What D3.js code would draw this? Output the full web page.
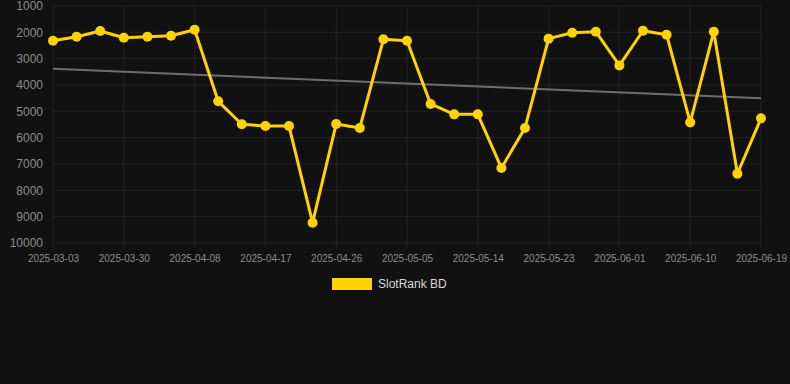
<!DOCTYPE html>
<html lang="en">
<head>
    <meta charset="UTF-8">
    <title>SlotRank BD</title>
    <style>
        html, body { margin: 0; padding: 0; background: #111111; }
        svg { display: block; font-family: Arial, "Liberation Sans", sans-serif; }
    </style>
</head>
<body>
    <script src="https://cdn.jsdelivr.net/npm/d3@7"></script>
    <script>
        // data
        var dates = ['2025-03-03', '2025-03-24', '2025-03-27', '2025-03-30', '2025-04-02', '2025-04-05',
            '2025-04-08', '2025-04-11', '2025-04-14', '2025-04-17', '2025-04-20', '2025-04-23',
            '2025-04-26', '2025-04-29', '2025-05-02', '2025-05-05', '2025-05-08', '2025-05-11',
            '2025-05-14', '2025-05-17', '2025-05-20', '2025-05-23', '2025-05-26', '2025-05-29',
            '2025-06-01', '2025-06-04', '2025-06-07', '2025-06-10', '2025-06-13', '2025-06-16',
            '2025-06-19'];
        var ranks = [2320, 2165, 1950, 2205, 2165, 2130, 1900, 4620, 5490, 5560, 5560, 9230,
            5480, 5630, 2265, 2320, 4720, 5115, 5115, 7150, 5630, 2240, 2015, 1975,
            3255, 1940, 2090, 5420, 1975, 7370, 5265];
        var yTicks = [1000, 2000, 3000, 4000, 5000, 6000, 7000, 8000, 9000, 10000];
        var seriesName = 'SlotRank BD';

        var width = 790,
            height = 384,
            lineColor = '#ffd200';

        var svg = d3.select('body').append('svg')
            .attr('width', width)
            .attr('height', height);

        svg.append('rect')
            .attr('width', width)
            .attr('height', height)
            .attr('fill', '#111111');

        // scales (y reversed: rank 1000 at top)
        var x = d3.scalePoint()
            .domain(dates)
            .range([53, 761]);
        var y = d3.scaleLinear()
            .domain([1000, 10000])
            .range([6, 243]);

        // grid
        var xTickDates = dates.filter(function(d, i) { return i % 3 === 0; });
        svg.append('g')
            .selectAll('line')
            .data(yTicks)
            .enter()
            .append('line')
            .attr('x1', 53).attr('x2', 761)
            .attr('y1', function(d) { return y(d); })
            .attr('y2', function(d) { return y(d); })
            .attr('stroke', d3.rgb(255, 255, 255, 0.07));
        svg.append('g')
            .selectAll('line')
            .data(xTickDates)
            .enter()
            .append('line')
            .attr('x1', function(d) { return x(d); })
            .attr('x2', function(d) { return x(d); })
            .attr('y1', 6).attr('y2', 248)
            .attr('stroke', d3.rgb(255, 255, 255, 0.07));

        // axes
        var yAxis = svg.append('g')
            .attr('transform', 'translate(53,0)')
            .call(d3.axisLeft(y).tickValues(yTicks).tickSize(0).tickPadding(10).tickFormat(d3.format('d')));
        yAxis.select('.domain').remove();
        yAxis.selectAll('text')
            .attr('fill', '#8c8c8c')
            .style('font-size', '12px')
            .style('font-family', 'Arial, "Liberation Sans", sans-serif');

        var xAxis = svg.append('g')
            .attr('transform', 'translate(0,243)')
            .call(d3.axisBottom(x).tickValues(xTickDates).tickSize(0).tickPadding(12));
        xAxis.select('.domain').remove();
        xAxis.selectAll('text')
            .attr('fill', '#8c8c8c')
            .style('font-size', '10px')
            .style('font-family', 'Arial, "Liberation Sans", sans-serif');

        // trend line (least squares over the series)
        var n = ranks.length,
            mx = d3.mean(d3.range(n)),
            my = d3.mean(ranks),
            sxy = d3.sum(ranks, function(v, i) { return (i - mx) * (v - my); }),
            sxx = d3.sum(d3.range(n), function(i) { return (i - mx) * (i - mx); }),
            slope = sxy / sxx,
            intercept = my - slope * mx;
        svg.append('line')
            .attr('x1', x(dates[0]))
            .attr('x2', x(dates[n - 1]))
            .attr('y1', y(intercept))
            .attr('y2', y(intercept + slope * (n - 1)))
            .attr('stroke', '#6e6e6e')
            .attr('stroke-width', 2);

        // series line
        var line = d3.line()
            .x(function(d, i) { return x(dates[i]); })
            .y(function(d) { return y(d); });
        svg.append('path')
            .datum(ranks)
            .attr('d', line)
            .attr('fill', 'none')
            .attr('stroke', lineColor)
            .attr('stroke-width', 3)
            .attr('stroke-linejoin', 'round');

        svg.append('g')
            .selectAll('circle')
            .data(ranks)
            .enter()
            .append('circle')
            .attr('cx', function(d, i) { return x(dates[i]); })
            .attr('cy', function(d) { return y(d); })
            .attr('r', 5)
            .attr('fill', lineColor);

        // legend
        var legend = svg.append('g').attr('transform', 'translate(332,278)');
        legend.append('rect')
            .attr('width', 40)
            .attr('height', 12)
            .attr('fill', lineColor);
        legend.append('text')
            .attr('x', 46)
            .attr('y', 10)
            .attr('fill', '#d9d9d9')
            .style('font-size', '12px')
            .text(seriesName);
    </script>
</body>
</html>
